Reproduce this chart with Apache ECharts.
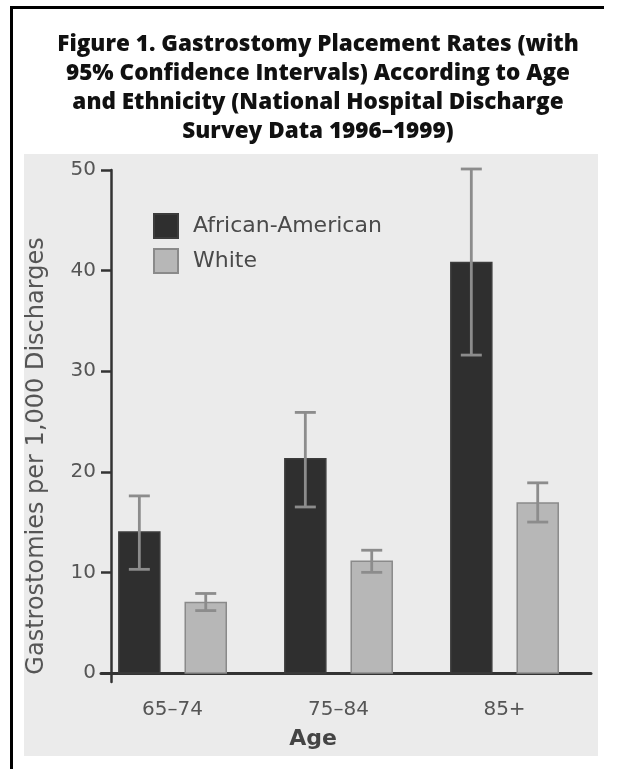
<!DOCTYPE html>
<html>
<head>
<meta charset="utf-8">
<script src="https://cdn.jsdelivr.net/npm/echarts@6/dist/echarts.min.js"></script>
<style>
  html, body { margin: 0; padding: 0; background: #fff; }
  #chart { width: 618px; height: 769px; }
</style>
</head>
<body>
<div id="chart"></div>
<script>
// age groups along the x axis
const ageGroups = ['65–74', '75–84', '85+'];

// gastrostomies per 1,000 discharges, with 95% CI bounds
const africanAmerican = [14.0, 21.3, 40.8];
const africanAmericanLow = [10.3, 16.5, 31.6];
const africanAmericanHigh = [17.6, 25.9, 50.1];

const white = [7.0, 11.1, 16.9];
const whiteLow = [6.2, 10.0, 15.0];
const whiteHigh = [7.9, 12.2, 18.9];

const yTicks = [0, 10, 20, 30, 40, 50];

const FONT = '"DejaVu Sans"';
const TITLE_FONT = '"Open Sans"';
const chart = echarts.init(document.getElementById('chart'));

function barSeries(name, values, lows, highs, shift, fill, border) {
  return {
    name: name,
    type: 'custom',
    itemStyle: { color: fill, borderColor: border, borderWidth: 1.5 },
    data: values.map((v, i) => [i, v, lows[i], highs[i]]),
    renderItem: function (params, api) {
      const band = api.size([1, 0])[0];
      const base = api.coord([api.value(0), 0]);
      const top = api.coord([api.value(0), api.value(1)]);
      const lo = api.coord([api.value(0), api.value(2)]);
      const hi = api.coord([api.value(0), api.value(3)]);
      const cx = base[0] + shift * band;
      const w = 0.247 * band;
      const cap = 10.5;
      const errStyle = { stroke: '#8c8c8c', lineWidth: 2.8 };
      return {
        type: 'group',
        children: [
          {
            type: 'rect',
            shape: { x: cx - w / 2, y: top[1], width: w, height: base[1] - top[1] },
            style: { fill: fill, stroke: border, lineWidth: 1.5 }
          },
          { type: 'line', shape: { x1: cx, y1: lo[1], x2: cx, y2: hi[1] }, style: errStyle },
          { type: 'line', shape: { x1: cx - cap, y1: hi[1], x2: cx + cap, y2: hi[1] }, style: errStyle },
          { type: 'line', shape: { x1: cx - cap, y1: lo[1], x2: cx + cap, y2: lo[1] }, style: errStyle }
        ]
      };
    }
  };
}

const option = {
  backgroundColor: '#fff',
  animation: false,
  title: {
    text: 'Figure 1. Gastrostomy Placement Rates (with\n95% Confidence Intervals) According to Age\nand Ethnicity (National Hospital Discharge\nSurvey Data 1996–1999)',
    left: 318,
    top: 30,
    textAlign: 'center',
    padding: 0,
    textStyle: {
      fontFamily: TITLE_FONT,
      fontWeight: 800,
      fontSize: 22.5,
      lineHeight: 29,
      color: '#111'
    }
  },
  graphic: [
    { type: 'rect', z: -10, shape: { x: 24, y: 154, width: 574, height: 602 }, style: { fill: '#ebebeb' } },
    { type: 'line', shape: { x1: 10, y1: 7.5, x2: 604, y2: 7.5 }, style: { stroke: '#000', lineWidth: 3 } },
    { type: 'line', shape: { x1: 11.5, y1: 6, x2: 11.5, y2: 769 }, style: { stroke: '#000', lineWidth: 3 } },
    {
      type: 'text', x: 37, y: 456, rotation: Math.PI / 2,
      style: {
        text: 'Gastrostomies per 1,000 Discharges',
        font: '24px ' + FONT, fill: '#555',
        textAlign: 'center', textVerticalAlign: 'middle'
      }
    },
    {
      type: 'text', x: 313, y: 739,
      style: {
        text: 'Age', font: 'bold 22px ' + FONT, fill: '#444',
        textAlign: 'center', textVerticalAlign: 'middle'
      }
    }
  ],
  legend: {
    orient: 'vertical',
    left: 153,
    top: 213,
    padding: 0,
    itemWidth: 24,
    itemHeight: 24,
    itemGap: 9,
    icon: 'rect',
    data: ['African-American', 'White'],
    textStyle: { fontFamily: FONT, fontSize: 22, color: '#4a4a4a', padding: [0, 0, 0, 10] }
  },
  grid: { left: 101, right: 27, top: 170, bottom: 87 },
  xAxis: {
    type: 'value',
    min: -0.431,
    max: 2.521,
    splitLine: { show: false },
    axisTick: { show: false },
    axisLine: { onZero: true, lineStyle: { color: '#333', width: 3 } },
    axisLabel: {
      customValues: [0, 1, 2],
      formatter: v => ageGroups[Math.round(v)],
      margin: 18,
      fontFamily: FONT,
      fontSize: 20,
      color: '#555'
    }
  },
  yAxis: {
    type: 'value',
    min: -0.9,
    max: 50,
    offset: -10,
    splitLine: { show: false },
    axisLine: { onZero: false, lineStyle: { color: '#333', width: 2.5 } },
    axisTick: { customValues: yTicks, length: 10, lineStyle: { color: '#333', width: 2.5 } },
    axisLabel: {
      customValues: yTicks,
      margin: 15,
      fontFamily: FONT,
      fontSize: 20,
      color: '#555'
    }
  },
  series: [
    barSeries('African-American', africanAmerican, africanAmericanLow, africanAmericanHigh, -0.2, '#2f2f2f', '#3c3c3c'),
    barSeries('White', white, whiteLow, whiteHigh, 0.2, '#b7b7b7', '#8a8a8a')
  ]
};

chart.setOption(option);
</script>
</body>
</html>
